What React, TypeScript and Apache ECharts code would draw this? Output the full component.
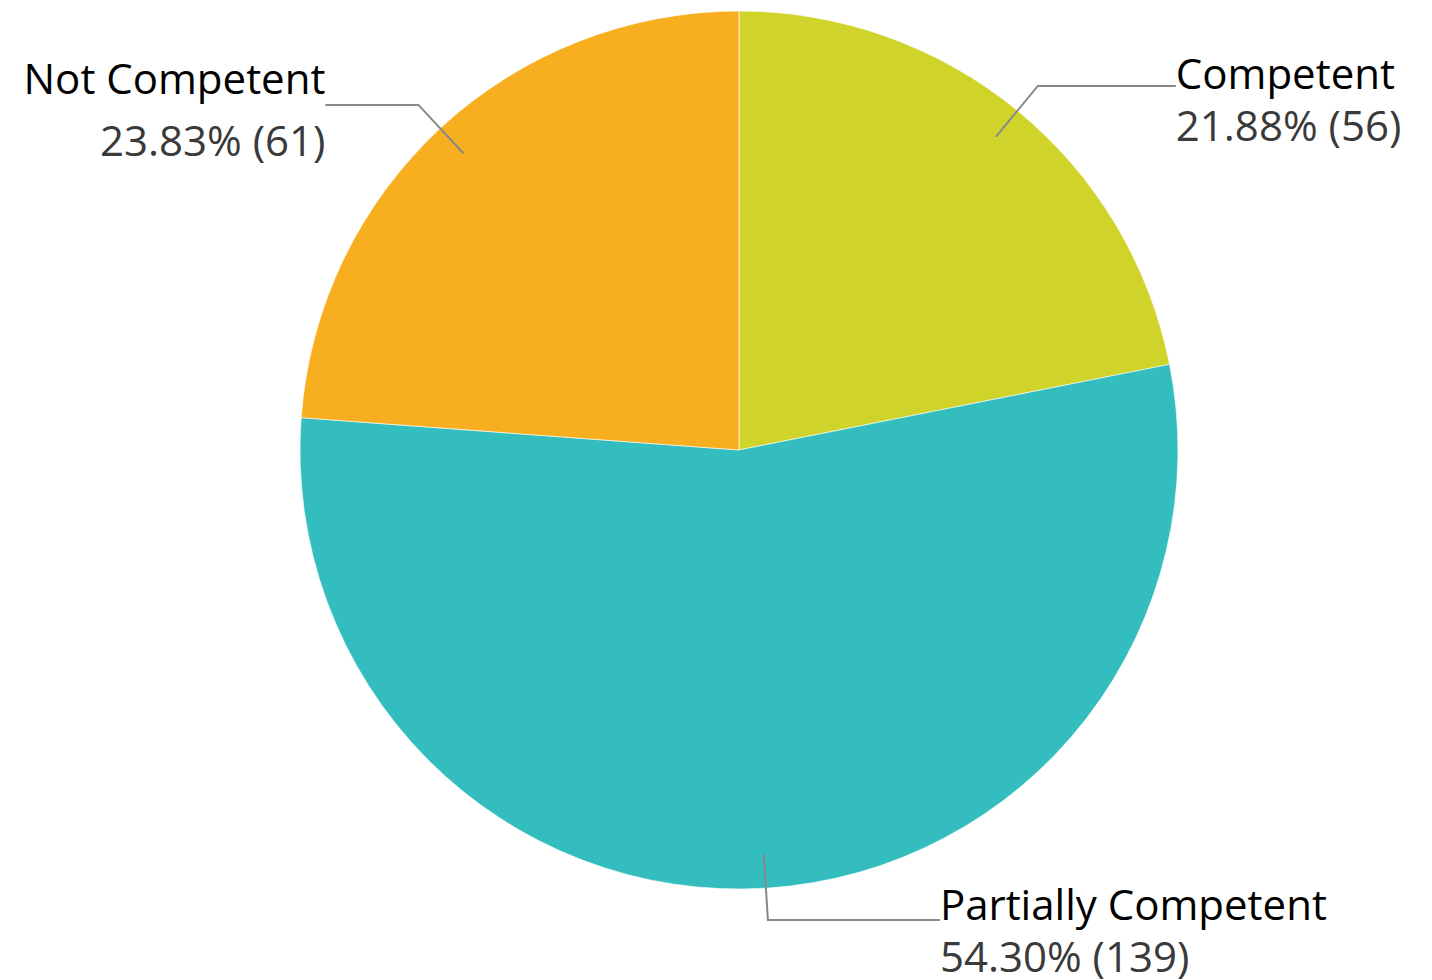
import React, { useEffect, useRef } from "react";
import * as echarts from "echarts";

const categories = ["Competent", "Partially Competent", "Not Competent"];
const counts = [56, 139, 61];
const colors = ["#D0D42A", "#33BDBE", "#F7AF1F"];
const lineLength2 = [138, 172, 93];
const labelPadTop = [26, 18, 8];
const labelLineHeight = [52, 52, 62];

export default function App() {
  const ref = useRef<HTMLDivElement>(null);
  useEffect(() => {
    if (!ref.current) return;
    const chart = echarts.init(ref.current, undefined, { renderer: "svg" });
    const font = "'Open Sans', 'Noto Sans', sans-serif";
    const total = counts.reduce((a, b) => a + b, 0);
    const visibleData = categories.map((name, i) => ({
      name,
      value: counts[i],
      itemStyle: { color: colors[i] },
    }));
    const labelData = categories.map((name, i) => ({
      name,
      value: counts[i],
      labelLine: { length: 66, length2: lineLength2[i] },
      label: {
        padding: [labelPadTop[i], 0, 0, 0],
        rich: {
          n: { fontFamily: font, fontSize: 42, color: "#000000", lineHeight: labelLineHeight[i] },
          p: { fontFamily: font, fontSize: 42, color: "#3a3a3a", lineHeight: labelLineHeight[i] },
        },
      },
    }));
    chart.setOption({
      animation: false,
      backgroundColor: "#ffffff",
      series: [
        {
          type: "pie",
          z: 1,
          center: [739, 450],
          radius: 439,
          startAngle: 90,
          clockwise: true,
          silent: true,
          label: { show: false },
          labelLine: { show: false },
          itemStyle: { borderColor: "rgba(255,255,255,0.6)", borderWidth: 1 },
          data: visibleData,
        },
        {
          type: "pie",
          z: 10,
          center: [739, 450],
          radius: 405,
          startAngle: 90,
          clockwise: true,
          silent: true,
          avoidLabelOverlap: false,
          itemStyle: { color: "rgba(0,0,0,0)" },
          label: {
            show: true,
            position: "outside",
            alignTo: "none",
            distanceToLabelLine: 0,
            formatter: (p: any) => {
              const pct = (Math.round((p.value / total) * 10000) / 100).toFixed(2);
              return `{n|${p.name}}\n{p|${pct}% (${p.value})}`;
            },
            rich: {
              n: { fontFamily: font, fontSize: 42, color: "#000000", lineHeight: 52 },
              p: { fontFamily: font, fontSize: 42, color: "#3a3a3a", lineHeight: 52 },
            },
          },
          labelLine: {
            show: true,
            lineStyle: { color: "#888888", width: 2 },
          },
          data: labelData,
        },
      ],
    });
    return () => chart.dispose();
  }, []);
  return (
    <div
      ref={ref}
      style={{ position: "absolute", left: 0, top: 0, width: 1432, height: 980 }}
    />
  );
}
